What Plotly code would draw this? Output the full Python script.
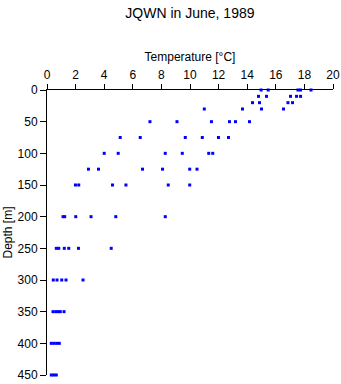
import plotly.graph_objects as go

# Temperature profile samples, grouped by sampling depth (m)
depths = [0, 10, 20, 30, 50, 75, 100, 125, 150, 200, 250, 300, 350, 400, 450]
temps_by_depth = [
    [14.97, 15.47, 17.55, 17.73, 18.46],
    [14.79, 15.35, 17.03, 17.45, 17.73],
    [14.37, 14.86, 16.85, 17.17],
    [11.0, 13.67, 15.0, 16.54],
    [7.2, 9.09, 11.5, 12.76, 13.18, 14.16],
    [5.12, 6.52, 9.67, 10.86, 11.99, 12.69],
    [4.0, 4.98, 8.27, 9.46, 11.31, 11.59],
    [2.9, 3.6, 6.68, 8.08, 9.98, 10.49],
    [1.99, 2.22, 4.58, 5.52, 8.48, 9.98],
    [1.12, 1.24, 2.01, 3.08, 4.81, 8.27],
    [0.65, 0.82, 1.21, 1.52, 2.2, 4.49],
    [0.44, 0.70, 1.03, 1.33, 2.52],
    [0.42, 0.61, 0.79, 0.93, 1.19],
    [0.3, 0.49, 0.68, 0.86],
    [0.3, 0.47, 0.65],
]
x_ticks = [0, 2, 4, 6, 8, 10, 12, 14, 16, 18, 20]
y_ticks = [0, 50, 100, 150, 200, 250, 300, 350, 400, 450]

xs, ys = [], []
for d, ts in zip(depths, temps_by_depth):
    for t in ts:
        xs.append(t)
        ys.append(d)

FONT = "Liberation Sans, Arial, sans-serif"

fig = go.Figure(
    go.Scatter(
        x=xs, y=ys, mode="markers",
        marker=dict(symbol="square", size=3, color="#0000ff", line=dict(width=0)),
        cliponaxis=False,
        hoverinfo="x+y",
    )
)

fig.update_layout(
    width=341, height=384,
    margin=dict(l=47, r=8, t=90, b=9),
    paper_bgcolor="white", plot_bgcolor="white",
    showlegend=False,
    font=dict(family=FONT, size=11, color="black"),
    title=dict(text="JQWN in June, 1989", x=0.557, xanchor="center",
               y=0.966, yanchor="middle", font=dict(size=14, family=FONT)),
    xaxis=dict(
        side="top", range=[0, 20], tickvals=x_ticks,
        showgrid=False, zeroline=False, automargin=False,
        showline=True, linecolor="black", linewidth=1,
        ticks="outside", ticklen=5, tickcolor="black", tickwidth=1,
        tickfont=dict(size=12),
        title=dict(text="Temperature [°C]", font=dict(size=12), standoff=4),
        mirror=False,
    ),
    yaxis=dict(
        range=[450, 0], tickvals=y_ticks,
        showgrid=False, zeroline=False, automargin=False,
        showline=True, linecolor="black", linewidth=1,
        ticks="outside", ticklen=6, tickcolor="black", tickwidth=1,
        tickfont=dict(size=12),
        title=dict(text="Depth [m]", font=dict(size=12), standoff=2),
    ),
)

fig.write_html("out.html")
